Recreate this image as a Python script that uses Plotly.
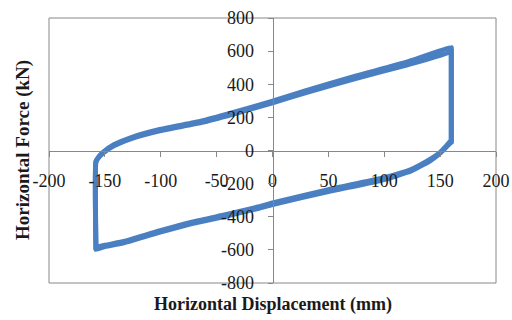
import plotly.graph_objects as go

# Hysteresis loop, displacement (mm) and force (kN)
upper_disp = [-158, -158, -155, -151, -142, -127, -100, -64, -35, 0, 30, 75, 120, 160]
upper_force_c1 = [-586, -70, -38, -12, 28, 70, 120, 168, 220, 288, 350, 436, 516, 598]
upper_force_c2 = [-594, -65, -33, -7, 35, 77, 128, 177, 230, 298, 362, 450, 533, 622]

right_disp = [160, 160]
right_force = [610, 50]

lower_disp = [160, 159, 155, 152, 148, 141, 124, 100, 50, 0, -13, -44, -73, -103, -133, -150, -158]
lower_force_c1 = [50, 45, 18, -3, -28, -62, -124, -175, -248, -326, -350, -400, -443, -497, -557, -580, -598]
lower_force_c2 = [58, 53, 23, 2, -23, -54, -115, -164, -236, -316, -341, -391, -434, -489, -549, -572, -588]

x_ticks = [-200, -150, -100, -50, 0, 50, 100, 150, 200]
y_ticks = [-800, -600, -400, -200, 0, 200, 400, 600, 800]

blue = "#4a7fc1"

fig = go.Figure()
for uf, lf in [(upper_force_c1, lower_force_c1), (upper_force_c2, lower_force_c2)]:
    xs = upper_disp + right_disp + lower_disp + [upper_disp[0]]
    ys = uf + right_force + lf + [uf[0]]
    fig.add_trace(go.Scatter(x=xs, y=ys, mode="lines",
                             line=dict(color=blue, width=5, shape="spline", smoothing=0.4),
                             showlegend=False, hoverinfo="skip"))

serif = "Liberation Serif, Times New Roman, serif"
tickfont = dict(family=serif, size=18, color="#1a1a1a")
fig.update_layout(
    width=512, height=320,
    margin=dict(l=49, r=16, t=18, b=37, autoexpand=False),
    paper_bgcolor="white", plot_bgcolor="white",
    xaxis=dict(range=[-200, 200], tickvals=x_ticks, ticktext=[str(v) for v in x_ticks],
               showgrid=False, zeroline=False, showline=True, linecolor="#888888", linewidth=1,
               ticks="outside", ticklen=5, tickcolor="#888888", automargin=False,
               anchor="free", position=0.5, tickfont=tickfont, ticklabelstandoff=9),
    yaxis=dict(range=[-800, 800], tickvals=y_ticks, ticktext=[str(v) for v in y_ticks],
               showgrid=False, zeroline=False, showline=True, linecolor="#888888", linewidth=1,
               ticks="outside", ticklen=5, tickcolor="#888888", automargin=False,
               anchor="free", position=0.5, tickfont=tickfont, ticklabelstandoff=10),
    shapes=[dict(type="rect", xref="paper", yref="paper", x0=0, y0=0, x1=1, y1=1,
                 line=dict(color="#888888", width=1), layer="below")],
    annotations=[
        dict(text="<b>Horizontal Displacement (mm)</b>", xref="paper", yref="paper",
             x=0.5, y=(283 - 304) / 265, xanchor="center", yanchor="middle", showarrow=False,
             font=dict(family=serif, size=18, color="#1a1a1a")),
        dict(text="<b>Horizontal Force (kN)</b>", xref="paper", yref="paper",
             x=(23 - 49) / 447, y=(283 - 150) / 265, xanchor="center", yanchor="middle",
             textangle=-90, showarrow=False,
             font=dict(family=serif, size=19, color="#1a1a1a")),
    ],
)

fig.write_html("out.html", config={"displayModeBar": False},
               post_script="document.body.style.margin='0';")
